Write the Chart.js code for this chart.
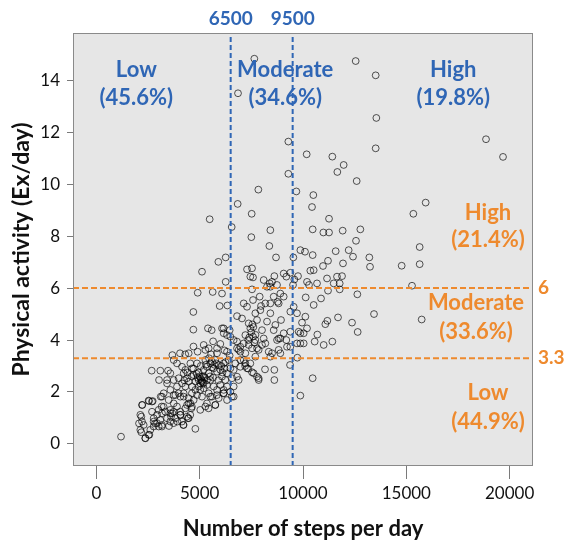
<!DOCTYPE html>
<html>
<head>
<meta charset="utf-8">
<title>Steps per day vs physical activity</title>
<script src="https://cdn.jsdelivr.net/npm/chart.js@4.4.1/dist/chart.umd.min.js"></script>
<style>
  html, body { margin: 0; padding: 0; background: #ffffff; }
  #wrap { width: 568px; height: 551px; }
</style>
</head>
<body>
<div id="wrap"><canvas id="chart" width="568" height="551"></canvas></div>
<script>
// Axis ranges and ticks
const xMin = -1130, xMax = 21130;
const yMin = -0.85, yMax = 15.82;
const xTicks = [0, 5000, 10000, 15000, 20000];
const yTicks = [0, 2, 4, 6, 8, 10, 12, 14];

// Cut-off values
const stepCutoffs = [6500, 9500];
const activityCutoffs = [6, 3.3];

// Category labels
const stepLabels = ['Low', 'Moderate', 'High'];
const stepShares = ['(45.6%)', '(34.6%)', '(19.8%)'];
const activityLabels = ['High', 'Moderate', 'Low'];
const activityShares = ['(21.4%)', '(33.6%)', '(44.9%)'];

// Participants: [steps per day, Ex per day]
const upperPoints = [
    [7645,14.83],[12549,14.74],[13517,14.19],[6855,13.50],[13549,12.55],[18856,11.73],[9291,11.64],[13517,11.38],
    [10178,11.15],[19679,11.05],[11420,11.06],[11968,10.74],[11662,10.47],[9291,10.40],[12598,10.12],[7839,9.79],
    [9678,9.72],[10500,9.58],[10436,9.12],[15936,9.29],[15340,8.86],[6839,9.24],[7517,8.86],[5484,8.65],
    [11259,8.67],[6549,8.35],[8420,8.23],[7500,7.96],[10468,8.26],[10985,8.14],[11259,8.14],[11920,8.21],
    [12775,8.26],[12565,7.82],[8371,7.62],[15646,7.58],[9872,7.46],[10097,7.40],[10468,7.27],[11581,7.42],
    [12210,7.46],[12420,7.21],[13210,7.18],[13243,6.82],[14775,6.86],[15646,6.92],[8694,7.18],[9533,7.18],
    [6258,7.18],[5904,7.01],[5113,6.63],[11210,7.05],[11936,6.95],[10968,6.85],[15275,6.09],[6258,6.24],
    [7291,6.72],[7533,6.76],[7452,6.44],[7581,6.41],[8097,6.31],[8388,6.18],[8501,6.24],[8613,6.46],
    [8743,6.12],[8420,6.05],[8259,6.05],[9065,6.56],[9194,6.44],[9388,6.59],[9581,6.33],[9759,6.46],
    [9517,6.12],[10194,6.24],[10355,6.67],[10517,6.69],[10678,6.18],[11162,6.37],[11485,6.18],[11775,6.18],
    [11646,6.44],[11888,6.46],[10291,6.12]
];

const middlePoints = [
    [15743,4.79],[13436,5.00],[12630,5.76],[12646,4.31],[12372,4.67],[11694,4.87],[11178,4.74],[11081,4.61],
    [11420,3.94],[11001,3.81],[10694,4.21],[10565,3.94],[9726,3.32],[9388,3.74],
    [4694,5.08],[4694,4.40],[4904,5.82],[5630,5.85],[6081,5.79],[5581,4.38],[5968,5.31],[6339,5.33],
    [6162,4.45],[4049,3.49],[4468,3.49],[3678,3.42],
    [11775,5.95],[11210,5.90],[10872,5.60],[10517,5.35],[10130,5.64],[7533,5.95],[7581,5.54],[7904,5.67],
    [7968,5.31],[8178,5.41],[8420,5.41],[8581,5.67],[8775,5.47],[8823,5.41],[8904,5.79],[9065,5.67],
    [6807,4.92],[7049,4.83],[7130,5.41],[7291,5.28],[7372,4.64],[7452,4.45],[7581,4.13],[7694,5.03],
    [7775,4.77],[7936,5.15],[8017,4.38],[8097,4.06],[8259,4.71],[8420,5.03],[8581,4.38],[8662,4.58],
    [8823,4.06],[8936,4.77],[9065,4.26],[9194,4.00],[9388,5.09],[9388,4.32],[9549,5.28],[9710,5.03],
    [9791,4.32],[9872,4.26],[9952,4.67],[10114,4.90],[10194,4.45],[10033,3.87],[9872,3.87],[9710,3.87],
    [10033,4.26],
    [6081,4.45],[6162,4.26],[6323,4.19],[6452,4.38],[6484,4.13],[6646,4.00],[6807,3.94],[6888,3.62],
    [6968,3.74],[7130,3.87],[7210,4.19],[7372,3.81],[7533,3.68],[7694,4.00],[7775,3.68],[7855,3.62],
    [8017,3.81],[8178,3.87],[8339,3.55],[8501,3.49],[8823,3.62],[8904,4.06],[8743,4.00],
    [5194,3.81],[5275,3.62],[5436,3.68],[5839,3.68],[5839,3.49],[6323,3.55],[6807,3.68],[6968,3.55],
    [7210,3.49],[8904,3.49],[9226,3.74],[7694,3.36],[8420,3.36],
    [7500,4.30],[7600,4.50],[7400,4.10],[7700,4.20],[7550,4.60],[7650,3.90],[7350,4.00],[5400,4.45],
    [5650,3.95],[6000,3.85],
    [4300,3.45],[4900,3.55],[5550,3.45],[6200,3.60],[6450,3.40],[4700,3.75]
];

const lowerPoints = [
    [4791,0.58],[1194,0.28],[2371,0.22],[2177,0.45],[2565,0.35],[2065,0.79],[2177,1.05],[2226,1.50],
    [2549,1.65],[2726,1.65],[3113,1.82],[3161,1.44],[2774,0.99],[2839,0.79],[3016,0.67],[3178,0.73],
    [3516,0.69],[3613,1.05],[3678,1.18],[3920,0.86],[4210,0.73],[4436,0.99],[4597,1.37],[2678,2.82],
    [3097,2.82],[3468,2.82],[3033,2.46],[3420,2.46],
    [6646,1.82],[8162,2.87],[8613,2.85],[8613,2.46],[7855,2.53],[7533,2.76],[7291,2.91],[10468,2.53],
    [9872,1.86],[9372,3.04],
    [7130,3.23],[7210,3.10],[7452,3.10],[7614,2.72],[7775,2.59],[7855,2.46],[6968,3.23],
    [3742,3.23],[3903,3.10],[4145,2.97],[4226,2.72],[4307,2.85],[4387,2.53],[4549,3.10],[4629,2.91],
    [4710,2.65],[4871,3.10],[4952,2.46],[5033,2.33],[5113,2.59],[5194,2.85],[5275,3.23],[5355,2.97],
    [5436,2.72],[5516,3.10],[5597,3.17],[5678,2.91],[5758,3.23],[5839,2.78],[5920,3.04],[6000,2.85],
    [6081,2.59],[6162,3.10],[6242,2.46],[6323,2.72],[6404,3.23],[6484,2.91],[6565,2.53],[6646,2.85],
    [6726,3.10],[6807,2.59],[6888,2.46],[6968,2.97],
    [4145,2.33],[4307,2.21],[4468,2.40],[4629,2.21],[4791,2.08],[4952,2.21],[5113,2.40],[5194,2.14],
    [5355,2.27],[5516,2.46],[5678,2.21],[5839,2.08],[6000,2.27],[6162,2.08],[6323,2.21],[6484,2.01],
    [6646,2.21],[3581,2.72],[3742,2.46],[3903,2.21],[3984,2.53],[3420,2.33],[3581,2.08],[3823,1.88],
    [4065,1.82],[4226,1.95],[4468,1.76],[4549,1.56],[4710,1.69],[4871,1.88],[5113,1.82],[5275,1.44],
    [5436,1.95],[5597,1.82],[5758,1.50],[5920,1.76],[6162,1.95],[6323,1.69],[3258,1.95],[3500,1.69],
    [3742,1.56],[3903,1.44],[4065,1.24],[4307,1.37],[4387,1.50],[3581,1.31],[3339,1.24],[3016,1.31],
    [2936,1.12],[3420,0.99],[3823,0.99],[4065,1.12],
    [5100,2.45],[5050,2.50],[5150,2.35],[5000,2.60],[4900,2.55],[4850,2.70],[5200,2.60],[5600,2.95],
    [5700,3.05],[5800,3.10],[6050,3.00],[6200,2.90],[7200,3.00],[7350,2.90],[5450,3.30]
];

const lowerLeftPoints = [
    [2210,1.50],[2530,1.67],[2693,1.63],[3176,1.82],[3740,1.88],[3981,1.95],[4222,1.82],[4625,1.95],
    [4465,1.56],[4625,1.43],[5029,1.31],[5352,1.56],[5432,1.37],[5754,1.50],[3256,1.43],[3176,1.18],
    [3578,1.18],[3740,1.24],[4062,1.12],[4385,1.05],[4545,1.12],[2693,1.24],[2128,1.12],[2210,0.86],
    [2290,0.73],[2772,0.86],[2934,0.80],[3095,0.92],[3176,0.67],[3578,0.86],[3740,0.80],[4142,0.86],
    [4222,0.73],[2128,0.54],[2369,0.22],[2530,0.35],[2611,0.54],[2772,0.67],[4465,0.99],[5029,2.08],
    [5190,2.33],[5513,1.82],[5835,1.88],[6157,1.95],[6560,1.82],
    [4700,2.90],[4800,2.40],[4950,2.75],[5250,2.55],[5350,2.45],[5500,2.60],[5650,2.55],[5900,2.45],
    [6100,2.75],[6250,3.15],[4600,2.60],[4400,2.75],[4250,2.45],[5300,3.05],[5050,3.00]
];

// Colours and fonts
const BLUE = '#2f66b5';
const ORANGE = '#ee8a2e';
const FONT = 'Lato, "Open Sans", sans-serif';

const allPoints = upperPoints.concat(middlePoints, lowerPoints, lowerLeftPoints)
    .map(p => ({ x: p[0], y: p[1] }));

const datasets = [{
    type: 'scatter',
    label: 'Participants',
    data: allPoints,
    pointStyle: 'circle',
    pointRadius: 3.4,
    borderWidth: 1,
    borderColor: 'rgba(0,0,0,0.66)',
    backgroundColor: 'rgba(0,0,0,0)',
    order: 2
}];

stepCutoffs.forEach(v => {
    datasets.push({
        type: 'line',
        data: [{ x: v, y: yMin }, { x: v, y: yMax }],
        borderColor: BLUE,
        borderWidth: 2,
        borderDash: [5, 3],
        pointRadius: 0,
        order: 0
    });
});

activityCutoffs.forEach(v => {
    datasets.push({
        type: 'line',
        data: [{ x: xMin, y: v }, { x: xMax, y: v }],
        borderColor: ORANGE,
        borderWidth: 2,
        borderDash: [6, 3],
        pointRadius: 0,
        order: 0
    });
});

// Grey plot panel behind the points, frame and text labels on top
const panelPlugin = {
    id: 'panel',
    beforeDraw(chart) {
        const { ctx, chartArea: a } = chart;
        ctx.save();
        ctx.fillStyle = '#e6e6e6';
        ctx.fillRect(a.left, a.top, a.right - a.left, a.bottom - a.top);
        ctx.restore();
    },
    afterDraw(chart) {
        const { ctx, chartArea: a, scales } = chart;
        ctx.save();
        ctx.strokeStyle = '#8a8a8a';
        ctx.lineWidth = 1;
        ctx.strokeRect(a.left + 0.5, a.top + 0.5, a.right - a.left - 1, a.bottom - a.top - 1);

        ctx.textAlign = 'center';
        ctx.textBaseline = 'middle';

        // step cut-offs above the panel
        ctx.fillStyle = BLUE;
        ctx.font = 'bold 19px ' + FONT;
        stepCutoffs.forEach(v => {
            ctx.fillText(String(v), scales.x.getPixelForValue(v), 19);
        });

        // step categories along the top of the panel
        ctx.font = 'bold 22px ' + FONT;
        const stepCentres = [1935, 9140, 17270];
        stepLabels.forEach((t, i) => {
            const px = scales.x.getPixelForValue(stepCentres[i]);
            ctx.fillText(t, px, a.top + 37);
            ctx.fillText(stepShares[i], px, a.top + 65);
        });

        // activity categories on the right
        ctx.fillStyle = ORANGE;
        const actRows = [[213, 240, 488], [303, 332, 476], [393, 422, 488]];
        activityLabels.forEach((t, i) => {
            ctx.fillText(t, actRows[i][2], actRows[i][0]);
            ctx.fillText(activityShares[i], actRows[i][2], actRows[i][1]);
        });

        // activity cut-offs to the right of the panel
        ctx.font = 'bold 19px ' + FONT;
        ctx.textAlign = 'left';
        activityCutoffs.forEach(v => {
            ctx.fillText(String(v), a.right + 5, scales.y.getPixelForValue(v));
        });
        ctx.restore();
    }
};

new Chart(document.getElementById('chart'), {
    type: 'scatter',
    data: { datasets: datasets },
    options: {
        responsive: false,
        animation: false,
        layout: { padding: { top: 33, right: 35, left: 0, bottom: 0 } },
        plugins: {
            legend: { display: false },
            tooltip: { enabled: false }
        },
        scales: {
            x: {
                type: 'linear',
                min: xMin,
                max: xMax,
                afterBuildTicks: s => { s.ticks = xTicks.map(v => ({ value: v })); },
                afterFit: s => { s.height = 85; },
                grid: { drawOnChartArea: false, drawTicks: true, tickLength: 13, color: '#7a7a7a' },
                border: { display: false },
                ticks: {
                    color: '#111',
                    font: { family: FONT, size: 17 },
                    padding: 4,
                    maxRotation: 0,
                    callback: v => String(v)
                },
                title: {
                    display: true,
                    text: 'Number of steps per day',
                    color: '#111',
                    font: { family: FONT, size: 22, weight: 'bold' },
                    padding: { top: 0, bottom: 9 }
                }
            },
            y: {
                type: 'linear',
                min: yMin,
                max: yMax,
                afterBuildTicks: s => { s.ticks = yTicks.map(v => ({ value: v })); },
                afterFit: s => { s.width = 73; },
                grid: { drawOnChartArea: false, drawTicks: true, tickLength: 6, color: '#7a7a7a' },
                border: { display: false },
                ticks: {
                    color: '#111',
                    font: { family: FONT, size: 17 },
                    padding: 7,
                    callback: v => String(v)
                },
                title: {
                    display: true,
                    text: 'Physical activity (Ex/day)',
                    color: '#111',
                    font: { family: FONT, size: 23, weight: 'bold' },
                    padding: { top: 8, bottom: 0 }
                }
            }
        }
    },
    plugins: [panelPlugin]
});
</script>
</body>
</html>
